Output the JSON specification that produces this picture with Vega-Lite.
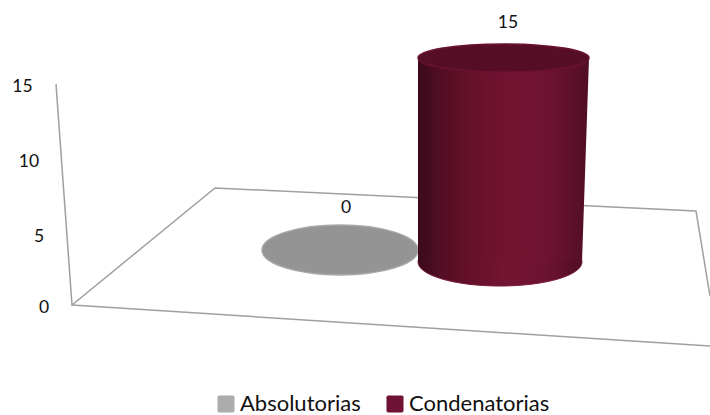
{
 "$schema":"https://vega.github.io/schema/vega-lite/v6.json",
 "width":710,"height":415,"padding":0,"autosize":{"type":"none"},
 "background":"white",
 "view":{"stroke":null},
 "config":{"font":"Lato"},
 "encoding":{
  "x":{"field":"x","type":"quantitative","scale":{"domain":[0,710],"nice":false,"zero":false},"axis":null},
  "y":{"field":"y","type":"quantitative","scale":{"domain":[415,0],"nice":false,"zero":false},"axis":null}
 },
 "layer":[
  {"data":{"values":[
    {"edge":"a","o":1,"x":56,"y":84},{"edge":"a","o":2,"x":72,"y":305},{"edge":"a","o":3,"x":215,"y":188},{"edge":"a","o":4,"x":696,"y":211},{"edge":"a","o":5,"x":710,"y":296},
    {"edge":"b","o":1,"x":72,"y":305},{"edge":"b","o":2,"x":710,"y":346}]},
   "mark":{"type":"line","stroke":"#a0a0a0","strokeWidth":1.5},
   "encoding":{"detail":{"field":"edge"},"order":{"field":"o"}}},
  {"data":{"values":[{"series":"Absolutorias","value":0,"x":340,"y":250}]},
   "mark":{"type":"point","filled":true,"opacity":1,"shape":"M-1,0A1,0.32 0 1,1 1,0A1,0.32 0 1,1 -1,0Z","size":24336,"fill":"#949494","stroke":"#a8a8a8","strokeWidth":1.5}},
  {"data":{"values":[{"series":"Absolutorias","value":0,"x":-50,"y":-50},{"series":"Condenatorias","value":15,"x":-50,"y":-50}]},
   "mark":{"type":"point","filled":true,"opacity":1,"size":10},
   "encoding":{"color":{"field":"series","type":"nominal",
     "scale":{"domain":["Absolutorias","Condenatorias"],"range":["#acacac","#6f1235"]},
     "legend":{"title":null,"orient":"none","legendX":215,"legendY":393,"direction":"horizontal","columns":2,"columnPadding":23,
       "labelFont":"Lato","labelFontSize":22,"labelColor":"#111111","labelLimit":300,"symbolSize":290,"symbolType":"M-1,-0.8Q-1,-1 -0.8,-1L0.8,-1Q1,-1 1,-0.8L1,0.8Q1,1 0.8,1L-0.8,1Q-1,1 -1,0.8Z","symbolOpacity":1,"labelOffset":3,"symbolStrokeWidth":0}}}},
  {"data":{"values":[{"series":"Condenatorias","x":500,"y":262}]},
   "mark":{"type":"point","filled":true,"opacity":1,"shape":"M-1,0A1,0.293 0 1,1 1,0A1,0.293 0 1,1 -1,0Z","size":26896,"stroke":"#7a1a3c","strokeWidth":1,
     "fill":{"x1":0,"y1":0,"x2":1,"y2":0,"gradient":"linear","stops":[{"offset":0,"color":"#3a0a1a"},{"offset":0.1,"color":"#4d0d22"},{"offset":0.3,"color":"#651029"},{"offset":0.55,"color":"#741433"},{"offset":0.75,"color":"#701332"},{"offset":1,"color":"#500e25"}]}}},
  {"data":{"values":[{"series":"Condenatorias","x":418,"x2":589,"y":58},{"series":"Condenatorias","x":418,"x2":582,"y":262}]},
   "mark":{"type":"area","orient":"horizontal","opacity":1,
     "fill":{"x1":0,"y1":0,"x2":1,"y2":0,"gradient":"linear","stops":[{"offset":0,"color":"#3a0a1a"},{"offset":0.1,"color":"#4d0d22"},{"offset":0.3,"color":"#651029"},{"offset":0.55,"color":"#741433"},{"offset":0.75,"color":"#701332"},{"offset":1,"color":"#500e25"}]}},
   "encoding":{"x2":{"field":"x2"}}},
  {"data":{"values":[{"series":"Condenatorias","x":503.5,"y":58}]},
   "mark":{"type":"point","filled":true,"opacity":1,"shape":"M-1,0A1,0.164 0 1,1 1,0A1,0.164 0 1,1 -1,0Z","size":29241,"fill":"#550e25","stroke":"#6c1231","strokeWidth":1.5}},
  {"data":{"values":[
    {"label":"15","x":22.5,"y":87},{"label":"10","x":29,"y":162},{"label":"5","x":39,"y":237},{"label":"0","x":44,"y":308},
    {"label":"0","x":346,"y":208},{"label":"15","x":508,"y":23}]},
   "mark":{"type":"text","font":"Lato","fontSize":17.5,"color":"#111111","align":"center","baseline":"middle"},
   "encoding":{"text":{"field":"label"}}}
 ]
}
